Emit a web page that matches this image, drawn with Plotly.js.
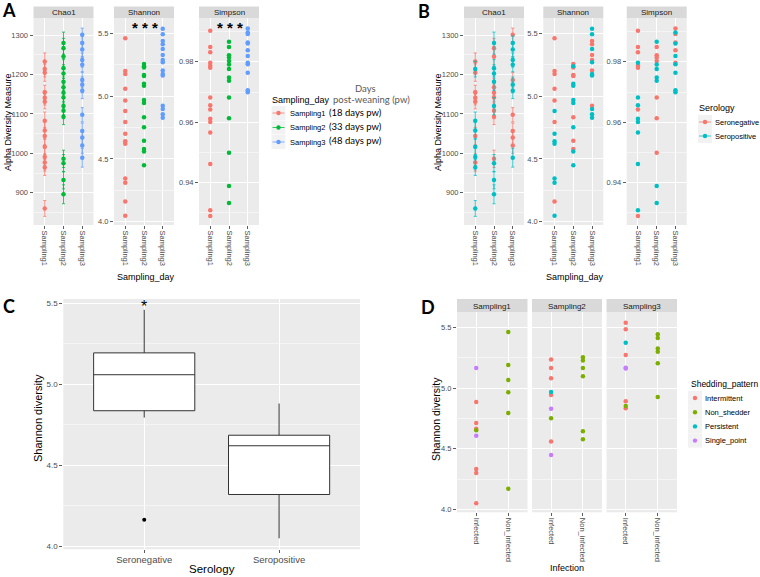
<!DOCTYPE html>
<html><head><meta charset="utf-8">
<script src="https://cdn.plot.ly/plotly-3.0.1.min.js"></script>
<style>html,body{margin:0;padding:0;background:#fff}</style>
</head><body><div id="chart" style="width:760px;height:577px"></div>
<script>
// ================= DATA =================
const samplingDays = ['Sampling1', 'Sampling2', 'Sampling3'];
const daysPw = ['(18 days pw)', '(33 days pw)', '(48 days pw)'];
const serologyLevels = ['Seronegative', 'Seropositive'];
const infectionLevels = ['Infected', 'Non_infected'];
const sheddingLevels = ['Intermittent', 'Non_shedder', 'Persistent', 'Single_point'];
const metricNames = ['Chao1', 'Shannon', 'Simpson'];

// Chao1 (value, standard error, serology N/P) per sampling day
const chao1S1 = [1233, 1214, 1205, 1155, 1141, 1131, 1083, 1058, 1044, 1017, 991, 977, 964, 860];
const chao1S1se = [22, 20, 22, 18, 18, 18, 22, 22, 22, 20, 22, 22, 20, 20];
const chao1S1sero = ['N','P','N','N','N','N','P','P','N','P','P','N','P','P'];
const chao1S2 = [1280, 1267, 1246, 1216, 1203, 1182, 1168, 1154, 1142, 1120, 1108, 1093, 986, 975, 932, 896];
const chao1S2se = [28, 25, 25, 22, 22, 22, 22, 22, 22, 22, 20, 20, 22, 22, 22, 24];
const chao1S2sero = ['P','N','N','P','P','P','N','N','N','P','N','N','N','P','P','P'];
const chao1S3 = [1301, 1280, 1264, 1237, 1225, 1186, 1174, 1159, 1098, 1057, 1040, 1020, 989];
const chao1S3se = [17, 18, 18, 18, 18, 20, 20, 20, 18, 20, 20, 20, 24];
const chao1S3sero = ['N','P','P','P','P','N','P','P','N','N','N','N','P'];

// Shannon
const shannonS1 = [5.460, 5.200, 5.176, 5.059, 4.964, 4.881, 4.794, 4.700, 4.640, 4.620, 4.345, 4.310, 4.162, 4.048];
const shannonS1sero = ['N','N','N','N','N','P','N','P','P','P','P','P','N','P'];
const shannonS2 = [5.255, 5.238, 5.228, 5.167, 5.160, 5.098, 5.082, 4.969, 4.944, 4.831, 4.751, 4.644, 4.578, 4.559, 4.449];
const shannonS2sero = ['N','P','N','N','N','P','P','P','P','N','P','N','N','P','P'];
const shannonS3 = [5.535, 5.492, 5.439, 5.412, 5.375, 5.327, 5.288, 5.269, 5.203, 5.176, 5.163, 4.924, 4.897, 4.855, 4.828];
const shannonS3sero = ['P','P','N','N','P','N','N','P','N','P','P','N','P','P','P'];

// Simpson
const simpsonS1 = [0.9903, 0.9849, 0.9832, 0.9797, 0.9788, 0.9780, 0.9682, 0.9656, 0.9642, 0.9612, 0.9601, 0.9566, 0.9462, 0.9309, 0.9290];
const simpsonS1sero = ['N','N','N','P','N','N','P','P','N','P','P','P','P','P','N'];
const simpsonS2 = [0.9866, 0.9849, 0.9822, 0.9814, 0.9803, 0.9791, 0.9776, 0.9748, 0.9737, 0.9682, 0.9613, 0.9499, 0.9389, 0.9333];
const simpsonS2sero = ['P','N','N','N','N','P','P','P','P','N','N','N','P','P'];
const simpsonS3 = [0.9910, 0.9897, 0.9892, 0.9864, 0.9861, 0.9838, 0.9819, 0.9797, 0.9792, 0.9764, 0.9706, 0.9699];
const simpsonS3sero = ['N','P','N','N','P','N','P','N','P','P','P','P'];

// Panel D: Shannon diversity by sampling, infection and shedding pattern
// pattern codes: I=Intermittent, N=Non_shedder, P=Persistent, S=Single_point
const dS1Infected = [5.167, 4.886, 4.713, 4.665, 4.652, 4.608, 4.333, 4.300, 4.049];
const dS1InfectedPat = ['S','I','I','I','N','S','I','I','I'];
const dS1NonInfected = [5.464, 5.192, 5.068, 4.966, 4.795, 4.170];
const dS2Infected = [5.238, 5.167, 5.082, 4.969, 4.944, 4.831, 4.751, 4.559, 4.449];
const dS2InfectedPat = ['I','I','I','P','I','S','N','I','S'];
const dS2NonInfected = [5.255, 5.228, 5.167, 5.098, 4.644, 4.578];
const dS3Infected = [5.541, 5.486, 5.376, 5.274, 5.170, 5.162, 4.892, 4.853, 4.834];
const dS3InfectedPat = ['I','I','P','I','S','S','I','N','I'];
const dS3NonInfected = [5.445, 5.415, 5.329, 5.302, 5.206, 4.928];

// ================= STYLE / LAYOUT =================
const W = 760, H = 577;
const px = v => v / W, py = v => 1 - v / H;
const FONT = 'Liberation Sans, Arial, sans-serif';
const dayColors = ['#F8766D', '#00BA38', '#619CFF'];
const seroColors = ['#F8766D', '#00BFC4'];
const shedColors = ['#F8766D', '#7CAE00', '#00BFC4', '#C77CFF'];
const seroMap = {N: 'Seronegative', P: 'Seropositive'};
const patMap = {I: 'Intermittent', N: 'Non_shedder', P: 'Persistent', S: 'Single_point'};

const metricData = [
  {vals: [chao1S1, chao1S2, chao1S3], se: [chao1S1se, chao1S2se, chao1S3se], sero: [chao1S1sero, chao1S2sero, chao1S3sero],
   range: [818, 1343], tick0: 900, dtick: 100, minor: 50, fmt: 'd'},
  {vals: [shannonS1, shannonS2, shannonS3], se: null, sero: [shannonS1sero, shannonS2sero, shannonS3sero],
   range: [3.974, 5.619], tick0: 4, dtick: 0.5, minor: 0.25, fmt: '.1f'},
  {vals: [simpsonS1, simpsonS2, simpsonS3], se: null, sero: [simpsonS1sero, simpsonS2sero, simpsonS3sero],
   range: [0.926, 0.9944], tick0: 0.94, dtick: 0.02, minor: 0.01, fmt: '.2f'}
];

const panelTop = 18.3, panelBot = 225, stripTop = 6.5;
const aX = [[33.5, 93.5], [114, 174], [199, 259]];
const bX = [[464, 524], [543.3, 603.3], [626.7, 686.7]];
const cX = [63.3, 360], cY = [299, 549.3];
const dX = [[457, 527.5], [532, 602], [606.5, 677]];
const dY = [312.3, 512.3], dStripTop = 299;

const layout = {
  width: W, height: H, autosize: false,
  margin: {l: 0, r: 0, t: 0, b: 0},
  paper_bgcolor: '#FFFFFF', plot_bgcolor: '#EBEBEB',
  showlegend: false, annotations: [], shapes: []
};
const traces = [];

function yAxisCfg(dom, m, showLabels, anchor) {
  return {
    domain: [py(dom[1]), py(dom[0])], range: m.range, anchor: anchor,
    tickmode: 'linear', tick0: m.tick0, dtick: m.dtick, tickformat: m.fmt,
    showticklabels: showLabels, ticks: showLabels ? 'outside' : '', ticklen: 3, tickwidth: 0.8, tickcolor: '#333333',
    tickfont: {family: FONT, size: 7.5, color: '#4D4D4D'},
    showgrid: true, gridcolor: '#FFFFFF', gridwidth: 1, zeroline: false, showline: false,
    minor: {tick0: m.tick0, dtick: m.minor, showgrid: true, gridcolor: '#FFFFFF', gridwidth: 0.5, ticks: ''}
  };
}
function xAxisCfg(dom, cats, anchor, angle, size) {
  return {
    domain: [px(dom[0]), px(dom[1])], anchor: anchor, type: 'category',
    categoryorder: 'array', categoryarray: cats, range: [-0.6, cats.length - 0.4],
    tickangle: angle, ticks: 'outside', ticklen: 3, tickwidth: 0.8, tickcolor: '#333333',
    tickfont: {family: FONT, size: size, color: '#4D4D4D'},
    showgrid: true, gridcolor: '#FFFFFF', gridwidth: 1, zeroline: false, showline: false, fixedrange: true
  };
}
function ann(text, x, y, size, opts) {
  layout.annotations.push(Object.assign({
    text: text, x: px(x), y: py(y), xref: 'paper', yref: 'paper', showarrow: false,
    xanchor: 'center', yanchor: 'middle',
    font: {family: FONT, size: size, color: '#000000'}
  }, opts || {}));
}
function strip(x0, x1, y0, y1, label) {
  layout.shapes.push({type: 'rect', xref: 'paper', yref: 'paper', x0: px(x0), x1: px(x1), y0: py(y1), y1: py(y0),
    fillcolor: '#D9D9D9', line: {width: 0}, layer: 'below'});
  ann(label, (x0 + x1) / 2, (y0 + y1) / 2 + 0.5, 8, {font: {family: FONT, size: 8, color: '#1A1A1A'}});
}
function axName(i, kind) { return kind + (i === 1 ? '' : i); }

// ---------- Panel A (colour by sampling day) & B (colour by serology) ----------
metricData.forEach((m, k) => {
  const ia = k + 1, ib = k + 4;
  layout[axName(ia, 'xaxis')] = xAxisCfg(aX[k], samplingDays, axName(ia, 'y'), 90, 7.5);
  layout[axName(ia, 'yaxis')] = yAxisCfg([panelTop, panelBot], m, true, axName(ia, 'x'));
  layout[axName(ib, 'xaxis')] = xAxisCfg(bX[k], samplingDays, axName(ib, 'y'), 90, 7.5);
  layout[axName(ib, 'yaxis')] = yAxisCfg([panelTop, panelBot], m, true, axName(ib, 'x'));
  strip(aX[k][0], aX[k][1], stripTop, panelTop, metricNames[k]);
  strip(bX[k][0], bX[k][1], stripTop, panelTop, metricNames[k]);

  // A: one trace per sampling day
  samplingDays.forEach((day, d) => {
    const tr = {
      type: 'scatter', mode: 'markers', x: m.vals[d].map(() => day), y: m.vals[d],
      xaxis: axName(ia, 'x'), yaxis: axName(ia, 'y'),
      marker: {color: dayColors[d], size: 4.5}, hoverinfo: 'skip'
    };
    if (m.se) tr.error_y = {type: 'data', array: m.se[d], color: dayColors[d], thickness: 0.8, width: 1.5};
    traces.push(tr);
  });
  // B: one trace per serology level
  ['N', 'P'].forEach((code, s) => {
    const xs = [], ys = [], es = [];
    samplingDays.forEach((day, d) => {
      m.vals[d].forEach((v, i) => {
        if (m.sero[d][i] === code) { xs.push(day); ys.push(v); if (m.se) es.push(m.se[d][i]); }
      });
    });
    const tr = {
      type: 'scatter', mode: 'markers', x: xs, y: ys,
      xaxis: axName(ib, 'x'), yaxis: axName(ib, 'y'),
      marker: {color: seroColors[s], size: 4.5}, hoverinfo: 'skip'
    };
    if (m.se) tr.error_y = {type: 'data', array: es, color: seroColors[s], thickness: 0.8, width: 1.5};
    traces.push(tr);
  });
});

// ---------- Panel C (box plot, Shannon at Sampling1 by serology) ----------
layout.xaxis7 = xAxisCfg(cX, serologyLevels, 'y7', 0, 9.5);
layout.xaxis7.ticklabelstandoff = -2;
layout.yaxis7 = yAxisCfg(cY, {range: [3.98, 5.527], tick0: 4, dtick: 0.5, minor: 0.25, fmt: '.1f'}, true, 'x7');
layout.yaxis7.tickfont.size = 8;
traces.push({
  type: 'box', x: shannonS1sero.map(c => seroMap[c]), y: shannonS1,
  xaxis: 'x7', yaxis: 'y7', quartilemethod: 'linear', boxpoints: 'outliers',
  width: 0.75, whiskerwidth: 0, fillcolor: '#FFFFFF',
  line: {color: '#333333', width: 1}, marker: {color: '#000000', size: 4}, hoverinfo: 'skip'
});
layout.annotations.push({text: '*', x: 'Seronegative', y: 5.5, xref: 'x7', yref: 'y7', showarrow: false,
  yanchor: 'middle', yshift: -3, font: {family: FONT, size: 16, color: '#000'}});

// ---------- Panel D (Shannon by infection, faceted by sampling) ----------
const dInf = [dS1Infected, dS2Infected, dS3Infected];
const dInfPat = [dS1InfectedPat, dS2InfectedPat, dS3InfectedPat];
const dNon = [dS1NonInfected, dS2NonInfected, dS3NonInfected];
const dRange = {range: [3.975, 5.627], tick0: 4, dtick: 0.5, minor: 0.25, fmt: '.1f'};
samplingDays.forEach((day, f) => {
  const i = f + 8;
  layout[axName(i, 'xaxis')] = xAxisCfg(dX[f], infectionLevels, axName(i, 'y'), 90, 7.5);
  layout[axName(i, 'yaxis')] = yAxisCfg(dY, dRange, f === 0, axName(i, 'x'));
  strip(dX[f][0], dX[f][1], dStripTop, dY[0], day);
  sheddingLevels.forEach((pat, p) => {
    const xs = [], ys = [];
    dInf[f].forEach((v, j) => { if (patMap[dInfPat[f][j]] === pat) { xs.push('Infected'); ys.push(v); } });
    if (pat === 'Non_shedder') dNon[f].forEach(v => { xs.push('Non_infected'); ys.push(v); });
    if (!ys.length) return;
    traces.push({type: 'scatter', mode: 'markers', x: xs, y: ys,
      xaxis: axName(i, 'x'), yaxis: axName(i, 'y'),
      marker: {color: shedColors[p], size: 4.5}, hoverinfo: 'skip'});
  });
});

// ---------- Titles, labels, significance ----------
const LATO = 'Lato, Open Sans, sans-serif';
const letterFont = {family: LATO, size: 18, color: '#000', weight: 'bold'};
ann('A', 9, 10.5, 18, {font: letterFont});
ann('B', 424, 11, 18, {font: letterFont});
ann('C', 9, 306, 18, {font: letterFont});
ann('D', 428, 307, 18, {font: letterFont});

ann('Alpha Diversity Measure', 8, 122, 9, {textangle: -90});
ann('Alpha Diversity Measure', 438, 122, 9, {textangle: -90});
ann('Sampling_day', 145.5, 277, 9);
ann('Sampling_day', 575, 277, 9);
ann('Shannon diversity', 38, 418, 11, {textangle: -90});
ann('Serology', 211.7, 569, 11.5);
ann('Shannon diversity', 436, 419, 10.5, {textangle: -90});
ann('Infection', 566.7, 568, 9);
const starFont = {family: FONT, size: 15, color: '#000', weight: 'bold'};
ann('* * *', 144.5, 27, 15, {font: starFont});
ann('* * *', 229.5, 27, 15, {font: starFont});

// ---------- Legends (drawn from category arrays) ----------
function keyBox(cx, cy) {
  layout.shapes.push({type: 'rect', xref: 'paper', yref: 'paper', x0: px(cx - 7), x1: px(cx + 7), y0: py(cy + 7), y1: py(cy - 7),
    fillcolor: '#F2F2F2', line: {width: 0}});
}
function keyDot(cx, cy, color, withLine) {
  if (withLine) layout.shapes.push({type: 'line', xref: 'paper', yref: 'paper', x0: px(cx - 6), x1: px(cx + 6), y0: py(cy), y1: py(cy),
    line: {color: color, width: 0.8}});
  layout.shapes.push({type: 'circle', xref: 'paper', yref: 'paper', x0: px(cx - 2.2), x1: px(cx + 2.2), y0: py(cy + 2.2), y1: py(cy - 2.2),
    fillcolor: color, line: {width: 0}});
}
// Legend A
ann('Sampling_day', 270, 100, 9, {xanchor: 'left'});
ann('Days', 365, 88, 9.5, {font: {family: LATO, size: 9.5, color: '#595959'}});
ann('post-weaning (pw)', 331, 100, 9.5, {xanchor: 'left', font: {family: LATO, size: 9.5, color: '#595959'}});
samplingDays.forEach((day, d) => {
  const cy = 113 + d * 14.5;
  keyBox(278.5, cy); keyDot(278.5, cy, dayColors[d], true);
  ann(day, 288, cy, 7.5, {xanchor: 'left', font: {family: FONT, size: 7.5, color: '#000'}});
  ann(daysPw[d], 327, cy - 1, 9.5, {xanchor: 'left', font: {family: LATO, size: 9.5, color: '#000'}});
});
// Legend B
ann('Serology', 697, 108, 9, {xanchor: 'left'});
serologyLevels.forEach((lv, s) => {
  const cy = 122 + s * 14;
  keyBox(705, cy); keyDot(705, cy, seroColors[s], true);
  ann(lv, 713, cy, 7.5, {xanchor: 'left', font: {family: FONT, size: 7.5, color: '#000'}});
});
// Legend D
ann('Shedding_pattern', 689, 384.3, 8.5, {xanchor: 'left'});
sheddingLevels.forEach((lv, p) => {
  const cy = 398 + p * 14.2;
  keyBox(695, cy); keyDot(695, cy, shedColors[p], false);
  ann(lv, 703, cy, 7.5, {xanchor: 'left', font: {family: FONT, size: 7.5, color: '#000'}});
});

Plotly.newPlot('chart', traces, layout, {displayModeBar: false, staticPlot: true});
</script>
</body></html>
